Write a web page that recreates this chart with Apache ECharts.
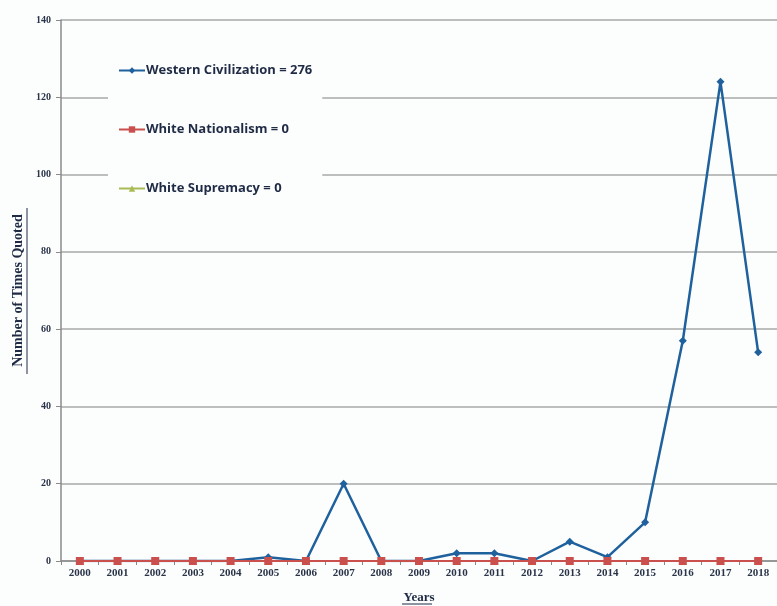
<!DOCTYPE html>
<html>
<head>
<meta charset="utf-8">
<script src="https://cdn.jsdelivr.net/npm/echarts@6/dist/echarts.min.js"></script>
<style>
  html, body { margin: 0; padding: 0; background: #fcfdfd; }
  #chart { width: 777px; height: 606px; }
</style>
</head>
<body>
<div id="chart"></div>
<script>
// categories
const years = ['2000', '2001', '2002', '2003', '2004', '2005', '2006', '2007', '2008', '2009',
  '2010', '2011', '2012', '2013', '2014', '2015', '2016', '2017', '2018'];

// series values
const westernCiv = [0, 0, 0, 0, 0, 1, 0, 20, 0, 0, 2, 2, 0, 5, 1, 10, 57, 124, 54];
const whiteNationalism = [0, 0, 0, 0, 0, 0, 0, 0, 0, 0, 0, 0, 0, 0, 0, 0, 0, 0, 0];
const whiteSupremacy = [0, 0, 0, 0, 0, 0, 0, 0, 0, 0, 0, 0, 0, 0, 0, 0, 0, 0, 0];

const seriesNames = ['Western Civilization = 276', 'White Nationalism = 0', 'White Supremacy = 0'];

const serif = "'Liberation Serif', 'DejaVu Serif', serif";
const sans = "'Open Sans', 'Noto Sans', sans-serif";

const chart = echarts.init(document.getElementById('chart'));

const option = {
  backgroundColor: '#fcfdfd',
  animation: false,
  grid: {
    left: 61,
    right: 0,
    top: 20,
    bottom: 45,
    outerBoundsMode: 'none'
  },
  legend: {
    orient: 'vertical',
    left: 108,
    top: 46,
    itemGap: 46,
    itemWidth: 26,
    itemHeight: 8,
    padding: [18, 10, 10, 10],
    backgroundColor: '#fcfdfd',
    textStyle: {
      fontFamily: sans,
      fontWeight: 'bold',
      fontSize: 13,
      color: '#1f2b45',
      padding: [0, 0, 0, -4]
    },
    data: seriesNames
  },
  xAxis: {
    type: 'category',
    data: years,
    name: 'Years',
    nameLocation: 'middle',
    nameGap: 30,
    nameTextStyle: {
      fontFamily: serif,
      fontWeight: 'bold',
      fontSize: 13,
      color: '#1f2b45'
    },
    axisLine: { lineStyle: { color: '#8a8a8a', width: 1.5 } },
    axisTick: { show: true, length: 4, lineStyle: { color: '#8a8a8a' } },
    axisLabel: {
      fontFamily: serif,
      fontWeight: 'bold',
      fontSize: 11,
      color: '#2a3448',
      margin: 7
    }
  },
  yAxis: {
    type: 'value',
    min: 0,
    max: 140,
    interval: 20,
    name: 'Number of Times Quoted',
    nameLocation: 'middle',
    nameRotate: 90,
    nameGap: 35,
    nameTextStyle: {
      fontFamily: serif,
      fontWeight: 'bold',
      fontSize: 14,
      color: '#1f2b45'
    },
    axisLine: { show: true, lineStyle: { color: '#8a8a8a', width: 1.5 } },
    axisTick: { show: true, length: 5, lineStyle: { color: '#8a8a8a' } },
    axisLabel: {
      fontFamily: serif,
      fontWeight: 'bold',
      fontSize: 10,
      color: '#2a3448',
      margin: 10
    },
    splitLine: { lineStyle: { color: '#a8a8a8', width: 1.5 } }
  },
  series: [
    {
      name: seriesNames[0],
      type: 'line',
      data: westernCiv,
      z: 2,
      symbol: 'diamond',
      symbolSize: 8,
      lineStyle: { color: '#1f619c', width: 2.5 },
      itemStyle: { color: '#1f619c' }
    },
    {
      name: seriesNames[1],
      type: 'line',
      data: whiteNationalism,
      z: 4,
      symbol: 'rect',
      symbolSize: 8,
      lineStyle: { color: '#c9504c', width: 2 },
      itemStyle: { color: '#c9504c' }
    },
    {
      name: seriesNames[2],
      type: 'line',
      data: whiteSupremacy,
      z: 3,
      symbol: 'triangle',
      symbolSize: 8,
      lineStyle: { color: '#a8bb55', width: 2 },
      itemStyle: { color: '#a8bb55' }
    }
  ],
  graphic: [
    // underlines under the axis names
    { type: 'line', shape: { x1: 27, y1: 208, x2: 27, y2: 374 }, style: { stroke: '#1f2b45', lineWidth: 1 } },
    { type: 'line', shape: { x1: 402, y1: 604, x2: 432, y2: 604 }, style: { stroke: '#1f2b45', lineWidth: 1 } }
  ]
};

chart.setOption(option);
</script>
</body>
</html>
